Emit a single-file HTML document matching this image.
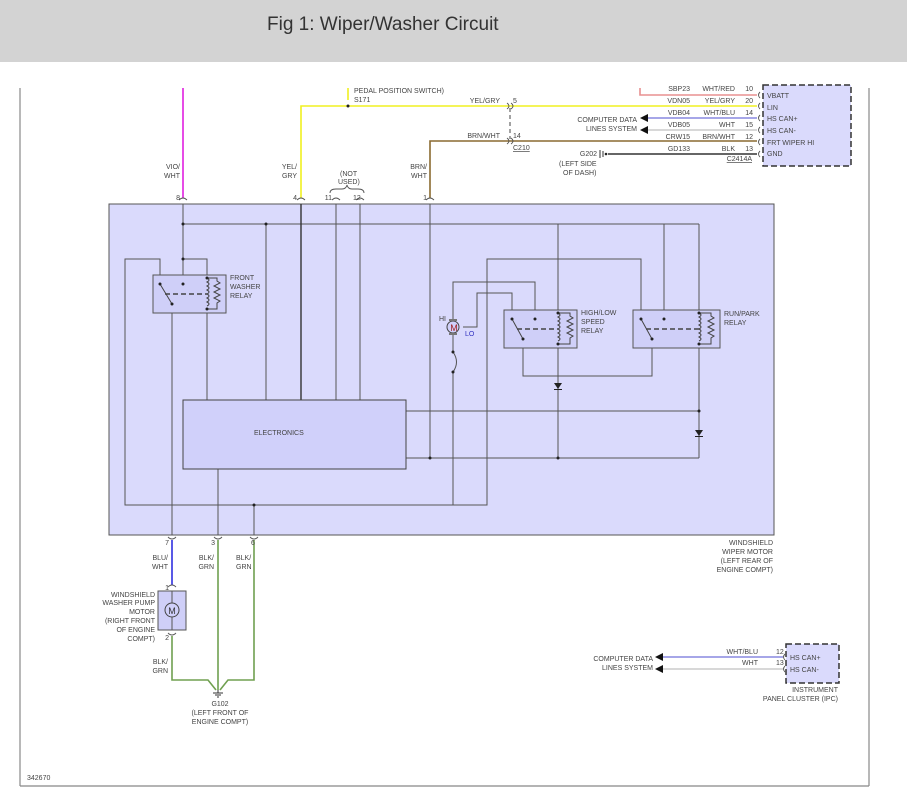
<!DOCTYPE html>
<html><head><meta charset="utf-8"><style>
html,body{margin:0;padding:0;background:#fff;width:907px;height:801px;overflow:hidden}
.hdr{position:absolute;left:0;top:0;width:907px;height:62px;background:#d3d3d3}
.hdr span{position:absolute;left:267px;top:14px;font:19px "Liberation Sans",sans-serif;color:#333}
svg{position:absolute;left:0;top:0}
text{font-family:"Liberation Sans",sans-serif;font-size:7px;fill:#444}
</style></head><body>
<div class="hdr"><span>Fig 1: Wiper/Washer Circuit</span></div>
<svg width="907" height="801" viewBox="0 0 907 801">
<g stroke="#888" stroke-width="1.2" fill="none">
<line x1="20" y1="88" x2="20" y2="786"/><line x1="869" y1="88" x2="869" y2="786"/><line x1="20" y1="786" x2="869" y2="786"/>
</g>
<rect x="109" y="204" width="665" height="331" fill="#dadafc" stroke="#555" stroke-width="1"/>
<rect x="763" y="85" width="88" height="81" fill="#dadafc" stroke="#333" stroke-width="1.5" stroke-dasharray="6,3"/>
<rect x="786" y="644" width="53" height="39" fill="#dadafc" stroke="#333" stroke-width="1.5" stroke-dasharray="6,3"/>
<g fill="none" stroke-width="1.6">
<line x1="183" y1="88" x2="183" y2="198" stroke="#e020e0"/>
<polyline points="301,198 301,106 757,106" stroke="#f0f020"/>
<line x1="348" y1="88" x2="348" y2="100" stroke="#f0f020"/>
<polyline points="430,198 430,141 757,141" stroke="#8a6a30"/>
<polyline points="640,88 640,95 757,95" stroke="#e89090"/>
<line x1="648" y1="118" x2="757" y2="118" stroke="#8888e0"/>
<line x1="648" y1="130" x2="757" y2="130" stroke="#cccccc"/>
<line x1="608" y1="154" x2="757" y2="154" stroke="#333"/>
<line x1="663" y1="657" x2="783" y2="657" stroke="#8888e0"/>
<line x1="663" y1="669" x2="783" y2="669" stroke="#cccccc"/>
<line x1="172" y1="540" x2="172" y2="585" stroke="#3030e0"/>
<polyline points="172,636 172,680 208,680 216,690" stroke="#70a050"/>
<line x1="218" y1="540" x2="218" y2="690" stroke="#70a050"/>
<polyline points="254,540 254,680 228,680 220,690" stroke="#70a050"/>
</g>
<circle cx="348" cy="106" r="1.5" fill="#222"/>
<line x1="510" y1="108" x2="510" y2="139" stroke="#444" stroke-dasharray="4,3"/>
<g fill="#111">
<polygon points="640,118 648,114 648,122"/><polygon points="640,130 648,126 648,134"/>
<polygon points="655,657 663,653 663,661"/><polygon points="655,669 663,665 663,673"/>
</g>
<g stroke="#333" stroke-width="1"><line x1="600" y1="150" x2="600" y2="158"/><line x1="603" y1="151" x2="603" y2="157"/></g>
<circle cx="606" cy="154" r="1.3" fill="#222"/>
<g stroke="#333"><line x1="218" y1="690" x2="218" y2="693"/><line x1="213" y1="693" x2="223" y2="693"/><line x1="215" y1="695" x2="221" y2="695"/><line x1="217" y1="697" x2="219" y2="697"/></g>
<g fill="none" stroke="#555" stroke-width="0.9">
<path d="M179,200 q4,-4 8,0"/><path d="M297,200 q4,-4 8,0"/><path d="M332,200 q4,-4 8,0"/><path d="M356,200 q4,-4 8,0"/><path d="M426,200 q4,-4 8,0"/>
<path d="M168,537 q4,4 8,0"/><path d="M214,537 q4,4 8,0"/><path d="M250,537 q4,4 8,0"/>
<path d="M168,587 q4,-4 8,0"/><path d="M168,633 q4,4 8,0"/>
<path d="M507,103 q4,3 0,6 M511,103 q4,3 0,6"/><path d="M507,138 q4,3 0,6 M511,138 q4,3 0,6"/>
<path d="M760,92 q-3,3 0,6"/><path d="M760,103 q-3,3 0,6"/><path d="M760,115 q-3,3 0,6"/><path d="M760,127 q-3,3 0,6"/><path d="M760,139 q-3,3 0,6"/><path d="M760,151 q-3,3 0,6"/>
<path d="M785,654 q-3,3 0,6"/><path d="M785,666 q-3,3 0,6"/>
<path d="M330,193 q0,-4 6,-4 l6,0 q4,0 5,-4 q1,4 5,4 l6,0 q6,0 6,4"/>
</g>
<g fill="none" stroke="#555" stroke-width="1">
<line x1="183" y1="204" x2="183" y2="284"/>
<line x1="183" y1="224" x2="699" y2="224"/>
<line x1="266" y1="224" x2="266" y2="400"/>
<line x1="336" y1="204" x2="336" y2="400"/>
<line x1="360" y1="204" x2="360" y2="400"/>
<line x1="430" y1="204" x2="430" y2="458"/>
<polyline points="183,259 207,259 207,400"/>
<polyline points="160,284 160,259 125,259 125,505 487,505 487,259 641,259 641,319"/>
<line x1="172" y1="304" x2="172" y2="535"/>
<line x1="218" y1="469" x2="218" y2="535"/>
<line x1="254" y1="505" x2="254" y2="535"/>
<line x1="558" y1="224" x2="558" y2="458"/>
<line x1="699" y1="224" x2="699" y2="458"/>
<line x1="664" y1="224" x2="664" y2="319"/>
<line x1="406" y1="411" x2="699" y2="411"/>
<line x1="406" y1="458" x2="699" y2="458"/>
<polyline points="453,320 453,282 535,282 535,319"/>
<polyline points="463,327 477,327 477,293 512,293 512,319"/>
<line x1="453" y1="334" x2="453" y2="352"/>
<path d="M453,352 q7,10 0,20"/>
<line x1="453" y1="372" x2="453" y2="505"/>
<polyline points="523,339 523,376 652,376 652,339"/>
</g>
<line x1="301" y1="204" x2="301" y2="400" stroke="#333" stroke-width="1.4"/>
<g stroke="#555" stroke-width="1">
<rect x="153" y="275" width="73" height="38" fill="#cfcff8"/>
<rect x="504" y="310" width="73" height="38" fill="#cfcff8"/>
<rect x="633" y="310" width="87" height="38" fill="#cfcff8"/>
</g>
<g fill="none" stroke="#444" stroke-width="1">
<line x1="160" y1="284" x2="172" y2="304"/><line x1="512" y1="319" x2="523" y2="339"/><line x1="641" y1="319" x2="652" y2="339"/>
<line x1="165" y1="294" x2="207" y2="294" stroke-dasharray="5,3" stroke-width="1.5"/>
<line x1="517" y1="329" x2="558" y2="329" stroke-dasharray="5,3" stroke-width="1.5"/>
<line x1="646" y1="329" x2="699" y2="329" stroke-dasharray="5,3" stroke-width="1.5"/>
<path d="M207,278 q4,2 0,4 q4,2 0,4 q4,2 0,4 q4,2 0,4 q4,2 0,4 q4,2 0,4 q4,2 0,4"/>
<polyline points="207,278 217,278 217,281 220,283 214,286 220,289 214,292 220,295 214,298 220,301 217,303 217,309 207,309"/>
<path d="M558,313 q4,2 0,4 q4,2 0,4 q4,2 0,4 q4,2 0,4 q4,2 0,4 q4,2 0,4 q4,2 0,4"/>
<polyline points="558,313 570,313 570,316 573,318 567,321 573,324 567,327 573,330 567,333 573,336 570,338 570,344 558,344"/>
<path d="M699,313 q4,2 0,4 q4,2 0,4 q4,2 0,4 q4,2 0,4 q4,2 0,4 q4,2 0,4 q4,2 0,4"/>
<polyline points="699,313 711,313 711,316 714,318 708,321 714,324 708,327 714,330 708,333 714,336 711,338 711,344 699,344"/>
</g>
<rect x="183" y="400" width="223" height="69" fill="#d0d0fa" stroke="#444" stroke-width="1"/>
<circle cx="453" cy="327" r="6" fill="#d0d0fa" stroke="#444"/>
<rect x="449" y="319" width="8" height="2" fill="#777"/><rect x="449" y="333" width="8" height="2" fill="#777"/>
<rect x="158" y="591" width="28" height="39" fill="#cfcff8" stroke="#555"/>
<line x1="172" y1="591" x2="172" y2="630" stroke="#555"/>
<circle cx="172" cy="610" r="7" fill="#d0d0fa" stroke="#444"/>
<g fill="#222"><polygon points="554,383 562,383 558,389"/><rect x="554" y="389" width="8" height="1"/>
<polygon points="695,430 703,430 699,436"/><rect x="695" y="436" width="8" height="1"/></g>
<g fill="#222">
<circle cx="183" cy="224" r="1.5"/><circle cx="266" cy="224" r="1.5"/><circle cx="183" cy="259" r="1.5"/><circle cx="183" cy="284" r="1.5"/>
<circle cx="160" cy="284" r="1.5"/><circle cx="172" cy="304" r="1.5"/><circle cx="207" cy="278" r="1.5"/><circle cx="207" cy="309" r="1.5"/>
<circle cx="254" cy="505" r="1.5"/><circle cx="430" cy="458" r="1.5"/><circle cx="558" cy="458" r="1.5"/><circle cx="699" cy="411" r="1.5"/>
<circle cx="512" cy="319" r="1.5"/><circle cx="535" cy="319" r="1.5"/><circle cx="523" cy="339" r="1.5"/><circle cx="558" cy="313" r="1.5"/><circle cx="558" cy="344" r="1.5"/>
<circle cx="641" cy="319" r="1.5"/><circle cx="664" cy="319" r="1.5"/><circle cx="652" cy="339" r="1.5"/><circle cx="699" cy="313" r="1.5"/><circle cx="699" cy="344" r="1.5"/>
<circle cx="453" cy="352" r="1.5"/><circle cx="453" cy="372" r="1.5"/>
</g>
<text x="454" y="331" text-anchor="middle" style="fill:#a02020;font-size:9px">M</text>
<text x="172" y="614" text-anchor="middle" style="font-size:9px;fill:#333">M</text>
<text x="354" y="93">PEDAL POSITION SWITCH)</text><text x="354" y="102">S171</text>
<text x="500" y="103" text-anchor="end">YEL/GRY</text><text x="513" y="103">5</text>
<text x="500" y="138" text-anchor="end">BRN/WHT</text><text x="513" y="138">14</text>
<text x="513" y="150" text-decoration="underline">C210</text>
<g text-anchor="end">
<text x="690" y="91">SBP23</text><text x="735" y="91">WHT/RED</text><text x="753" y="91">10</text>
<text x="690" y="103">VDN05</text><text x="735" y="103">YEL/GRY</text><text x="753" y="103">20</text>
<text x="690" y="115">VDB04</text><text x="735" y="115">WHT/BLU</text><text x="753" y="115">14</text>
<text x="690" y="127">VDB05</text><text x="735" y="127">WHT</text><text x="753" y="127">15</text>
<text x="690" y="139">CRW15</text><text x="735" y="139">BRN/WHT</text><text x="753" y="139">12</text>
<text x="690" y="151">GD133</text><text x="735" y="151">BLK</text><text x="753" y="151">13</text>
<text x="752" y="161" text-decoration="underline">C2414A</text>
<text x="637" y="122">COMPUTER DATA</text><text x="637" y="131">LINES SYSTEM</text>
<text x="597" y="156">G202</text>
<text x="653" y="661">COMPUTER DATA</text><text x="653" y="670">LINES SYSTEM</text>
<text x="758" y="654">WHT/BLU</text><text x="758" y="665">WHT</text>
<text x="838" y="692">INSTRUMENT</text><text x="838" y="701">PANEL CLUSTER (IPC)</text>
<text x="773" y="545">WINDSHIELD</text><text x="773" y="554">WIPER MOTOR</text><text x="773" y="563">(LEFT REAR OF</text><text x="773" y="572">ENGINE COMPT)</text>
<text x="155" y="597">WINDSHIELD</text><text x="155" y="605">WASHER PUMP</text><text x="155" y="614">MOTOR</text><text x="155" y="623">(RIGHT FRONT</text><text x="155" y="632">OF ENGINE</text><text x="155" y="641">COMPT)</text>
<text x="180" y="169">VIO/</text><text x="180" y="178">WHT</text>
<text x="297" y="169">YEL/</text><text x="297" y="178">GRY</text>
<text x="427" y="169">BRN/</text><text x="427" y="178">WHT</text>
<text x="168" y="560">BLU/</text><text x="168" y="569">WHT</text>
<text x="214" y="560">BLK/</text><text x="214" y="569">GRN</text>
<text x="168" y="664">BLK/</text><text x="168" y="673">GRN</text>
<text x="180" y="200">8</text><text x="297" y="200">4</text><text x="332" y="200">11</text><text x="427" y="200">1</text>
<text x="169" y="545">7</text><text x="215" y="545">3</text><text x="169" y="590">1</text><text x="169" y="640">2</text>
<text x="446" y="321">HI</text>
</g>
<text x="353" y="200">12</text><text x="251" y="545">6</text>
<text x="236" y="560">BLK/</text><text x="236" y="569">GRN</text>
<text x="340" y="176">(NOT</text><text x="338" y="184">USED)</text>
<text x="559" y="166">(LEFT SIDE</text><text x="563" y="175">OF DASH)</text>
<text x="767" y="98">VBATT</text><text x="767" y="110">LIN</text><text x="767" y="121">HS CAN+</text><text x="767" y="133">HS CAN-</text><text x="767" y="145">FRT WIPER HI</text><text x="767" y="156">GND</text>
<text x="790" y="660">HS CAN+</text><text x="790" y="672">HS CAN-</text>
<text x="776" y="654">12</text><text x="776" y="665">13</text>
<text x="230" y="280">FRONT</text><text x="230" y="289">WASHER</text><text x="230" y="298">RELAY</text>
<text x="581" y="315">HIGH/LOW</text><text x="581" y="324">SPEED</text><text x="581" y="333">RELAY</text>
<text x="724" y="316">RUN/PARK</text><text x="724" y="325">RELAY</text>
<text x="254" y="435">ELECTRONICS</text>
<text x="465" y="336" style="fill:#3030c0">LO</text>
<text x="220" y="706" text-anchor="middle">G102</text><text x="220" y="715" text-anchor="middle">(LEFT FRONT OF</text><text x="220" y="724" text-anchor="middle">ENGINE COMPT)</text>
<text x="27" y="780">342670</text>
</svg>
</body></html>
